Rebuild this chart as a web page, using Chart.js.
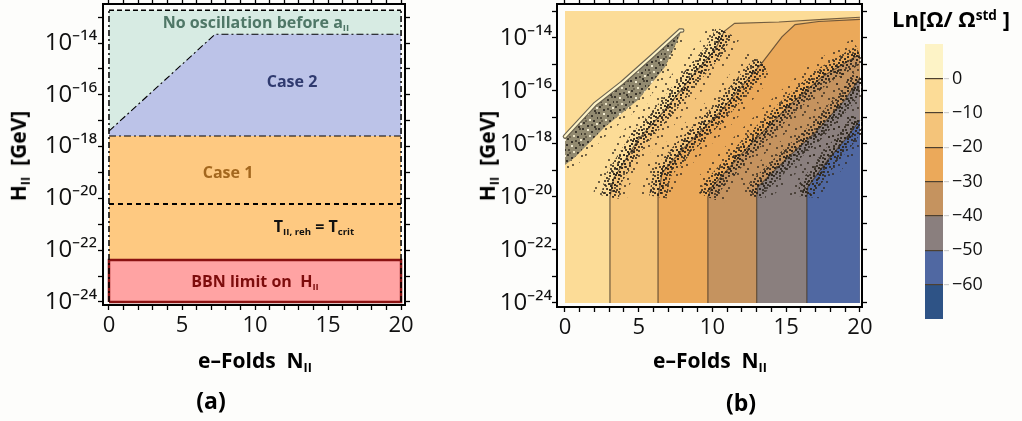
<!DOCTYPE html>
<html>
<head>
<meta charset="UTF-8">
<title>H_II vs e-folds</title>
<script src="https://cdn.jsdelivr.net/npm/chart.js@4.4.0/dist/chart.umd.min.js"></script>
<style>
body { margin:0; background:#fdfdfb; }
#wrap { position:relative; width:1022px; height:421px; font-family:'Open Sans', sans-serif; overflow:hidden; }
canvas { position:absolute; top:0; }
.lbl { position:absolute; white-space:nowrap; font-weight:bold; transform:translate(-50%,-50%); line-height:1; }
.lbl sub { font-size:60%; vertical-align:-0.3em; }
.lbl sup { font-size:62%; vertical-align:0.55em; }
.rot { transform:translate(-50%,-50%) rotate(-90deg); }
</style>
</head>
<body>
<div id="wrap">
	<canvas id="chartA" width="420" height="421" style="left:0"></canvas>
	<canvas id="chartB" width="410" height="421" style="left:470px"></canvas>
	<canvas id="cbar" width="97" height="421" style="left:925px"></canvas>

	<!-- panel (a) labels -->
	<div class="lbl" style="left:256px;top:23px;color:#4f7767;font-size:16px">No oscillation before a<sub>II</sub></div>
	<div class="lbl" style="left:292px;top:81px;color:#2f3a6f;font-size:16px">Case 2</div>
	<div class="lbl" style="left:228px;top:172px;color:#a3671e;font-size:16px">Case 1</div>
	<div class="lbl" style="left:314px;top:227px;color:#111;font-size:16px">T<sub>II, reh</sub> = T<sub>crit</sub></div>
	<div class="lbl" style="left:255px;top:282px;color:#7d0c0c;font-size:16px">BBN limit on&nbsp; H<sub>II</sub></div>

	<!-- axis titles -->
	<div class="lbl rot" style="left:20px;top:156px;font-size:21px">H<sub>II</sub>&nbsp; [GeV]</div>
	<div class="lbl rot" style="left:489px;top:156px;font-size:21px">H<sub>II</sub>&nbsp; [GeV]</div>
	<div class="lbl" style="left:255px;top:362px;font-size:21px">e–Folds&nbsp; N<sub>II</sub></div>
	<div class="lbl" style="left:710px;top:362px;font-size:21px">e–Folds&nbsp; N<sub>II</sub></div>
	<div class="lbl" style="left:211px;top:400px;font-size:23px">(a)</div>
	<div class="lbl" style="left:741px;top:402px;font-size:23px">(b)</div>
	<div class="lbl" style="left:951px;top:18px;font-size:22px">Ln[Ω/ Ω<sup>std</sup> ]</div>
</div>
<script>
// ---- axis ticks ----
const xTickVals = Array.from({length: 21}, (_, i) => i);
const xLabelVals = [0, 5, 10, 15, 20];
const yTickExps = [-24, -23, -22, -21, -20, -19, -18, -17, -16, -15, -14, -13];
const yLabelExps = [-24, -22, -20, -18, -16, -14];

// ---- panel (a): region edges, log10(H / GeV) against e-folds ----
const efoldEnds = [0, 20];
const noOscTop = -12.73;
const case2TopX = [0, 7.26, 20];
const case2TopY = [-17.4, -13.66, -13.66];
const case2Bottom = -17.59;
const reheatLine = -20.22;
const bbnTop = -22.38;
const bbnBottom = -24.0;

// ---- panel (b): contour edges of Ln[Omega/Omega_std] ----
const regionTop = -12.98;
const regionBottom = -24;
const edge0X = [0, 2.03, 3.84, 5.88, 7.8, 7.95];
const edge0Y = [-17.72, -16.5, -15.71, -14.7, -13.72, -13.72];
const band0LowX = [0, 0.68, 2.71, 4.95, 6.78, 7.8];
const band0LowY = [-18.8, -18.5, -17.36, -16.34, -15.1, -13.9];
const edge10X = [3.05, 3.05, 3.3, 4.95, 6.78, 8.81, 10.17, 10.8, 11.5, 14.5, 17.5, 20];
const edge10Y = [-24, -20.0, -19.3, -17.85, -16.72, -15.32, -14.45, -13.75, -13.45, -13.4, -13.3, -13.22];
const edge20X = [6.31, 6.31, 6.58, 7.93, 9.29, 10.5, 11.73, 13.36, 14.71, 15.6, 17.2, 20];
const edge20Y = [-24, -20.0, -19.1, -18.23, -17.47, -16.8, -16.0, -14.94, -13.96, -13.5, -13.38, -13.3];
const edge30X = [9.69, 9.69, 9.97, 12.41, 15.12, 17.42, 19.66, 20];
const edge30Y = [-24, -20.0, -19.62, -18.11, -16.6, -15.47, -14.72, -14.64];
const edge40X = [13.0, 13.0, 13.08, 15.12, 16.95, 18.98, 20];
const edge40Y = [-24, -20.0, -19.62, -18.51, -17.58, -16.34, -15.5];
const edge50X = [16.4, 16.4, 16.47, 17.83, 18.98, 20];
const edge50Y = [-24, -20.0, -19.62, -18.6, -17.85, -17.1];

// ---- colour bar ----
const cbLevels = [10, 0, -10, -20, -30, -40, -50, -60, -70];
const cbTicks = [0, -10, -20, -30, -40, -50, -60];
const cbColors = ['#fdf3c6', '#fcdc97', '#f4c47a', '#eba95a', '#c5935f', '#8a7f7e', '#5068a2', '#2e5386'];

Chart.defaults.font.family = "'Open Sans', sans-serif";
Chart.defaults.color = '#111';

const supMap = {'-': '⁻', '0': '⁰', '1': '¹', '2': '²', '3': '³', '4': '⁴', '5': '⁵', '6': '⁶', '7': '⁷', '8': '⁸', '9': '⁹'};
const powLabel = e => '10' + String(e).split('').map(c => supMap[c]).join('');
const pts = (xs, ys) => xs.map((x, i) => ({x: x, y: Math.pow(10, ys[i])}));
const flat = (xs, v) => xs.map(() => v);

// speckle texture standing in for the noisy scatter along the contours
function speckle(size, dots, fg, bg) {
	const c = document.createElement('canvas');
	c.width = size; c.height = size;
	const g = c.getContext('2d');
	if (bg) { g.fillStyle = bg; g.fillRect(0, 0, size, size); }
	dots.forEach(d => { g.fillStyle = d[2] || fg; g.fillRect(d[0], d[1], 2, 2); });
	return g.createPattern(c, 'repeat');
}
const denseDots = speckle(17, [[0,1],[5,0],[10,2],[14,5],[3,5],[8,7],[1,10],[6,12],[11,11],[15,14],[4,15],[9,4],[12,8],[2,13],[7,3],[13,1],[10,15],[6,9],[15,10],[3,2],[8,14],[12,4],[0,7],[13,13]], 'rgba(48,40,30,0.82)');
const sparseDots = speckle(19, [[1,2],[9,0],[5,7],[14,10],[2,14],[16,3],[11,16],[7,12]], 'rgba(50,42,32,0.7)');
const band0Dots = speckle(16, [[0,0,'#37322a'],[5,1,'#f3ecd2'],[9,3,'#3c372c'],[13,0,'#504a3b'],[2,5,'#514a3a'],[7,7,'#ece4c6'],[11,8,'#37322a'],[14,11,'#f1e9cd'],[1,10,'#3c372c'],[5,13,'#37322a'],[9,12,'#504a3b'],[12,14,'#3c372c'],[3,8,'#6a624e'],[15,5,'#3c372c']], null, '#928a70');

function frame(o) {
	const tickGrid = {drawOnChartArea: false, tickLength: 5, tickWidth: 1.3, tickColor: '#000'};
	const border = {color: '#000', width: 2};
	const xs = (pos, show, size) => ({
		type: 'linear', position: pos, min: o.xMin, max: o.xMax,
		afterBuildTicks: s => { s.ticks = xTickVals.map(v => ({value: v})); },
		afterFit: s => { s.height = size; s.paddingLeft = 0; s.paddingRight = 0; },
		grid: tickGrid, border: border,
		ticks: {display: show, autoSkip: false, maxRotation: 0, padding: 3, font: {size: 22},
			callback: v => xLabelVals.includes(v) ? String(v) : ''}
	});
	const ys = (pos, show, size) => ({
		type: 'logarithmic', position: pos, min: Math.pow(10, o.yMin), max: Math.pow(10, o.yMax),
		afterBuildTicks: s => { s.ticks = yTickExps.map(e => ({value: Math.pow(10, e)})); },
		afterFit: s => { s.width = size; s.paddingTop = 0; s.paddingBottom = 0; },
		grid: tickGrid, border: border,
		ticks: {display: show, autoSkip: false, padding: o.pad, font: {size: 24},
			callback: v => { const e = Math.round(Math.log10(v)); return yLabelExps.includes(e) ? powLabel(e) : ''; }}
	});
	return {x: xs('bottom', true, o.bottom), x2: xs('top', false, o.top),
		y: ys('left', true, o.left), y2: ys('right', false, o.right)};
}

const common = {
	responsive: false, animation: false, events: [],
	layout: {padding: 0},
	plugins: {legend: {display: false}, tooltip: {enabled: false}},
	elements: {point: {radius: 0}, line: {tension: 0}}
};

// ---------- panel (a) ----------
new Chart(document.getElementById('chartA'), {
	type: 'line',
	data: {datasets: [
		{data: pts(efoldEnds, flat(efoldEnds, noOscTop)), fill: {value: Math.pow(10, case2Bottom)},
			backgroundColor: '#d7ebe3', borderColor: '#000', borderWidth: 1.6, borderDash: [5, 3], order: 10},
		{data: pts(case2TopX, case2TopY), fill: {value: Math.pow(10, case2Bottom)},
			backgroundColor: '#bcc3e8', borderColor: '#000', borderWidth: 1.1, borderDash: [7, 3, 2, 3], order: 9},
		{data: pts(efoldEnds, flat(efoldEnds, case2Bottom)), fill: {value: Math.pow(10, bbnTop)},
			backgroundColor: '#fec981', borderColor: '#000', borderWidth: 1.1, borderDash: [7, 3, 2, 3], order: 8},
		{data: pts(efoldEnds, flat(efoldEnds, bbnTop)), fill: {value: Math.pow(10, bbnBottom)},
			backgroundColor: '#ffa3a3', borderWidth: 0, order: 7},
		{data: pts(efoldEnds, flat(efoldEnds, reheatLine)), fill: false,
			borderColor: '#000', borderWidth: 2, borderDash: [5, 4], order: 4},
		{data: pts([0, 0, 20, 20, 0], [bbnBottom, bbnTop, bbnTop, bbnBottom, bbnBottom]), fill: false,
			borderColor: '#8b1212', borderWidth: 2.5, order: 3},
		{data: pts([0, 0], [bbnBottom, noOscTop]), fill: false,
			borderColor: '#000', borderWidth: 1.5, borderDash: [6, 3, 2, 3], order: 2},
		{data: pts([20, 20], [bbnBottom, noOscTop]), fill: false,
			borderColor: '#000', borderWidth: 1.5, borderDash: [6, 3, 2, 3], order: 2}
	]},
	options: Object.assign({}, common, {
		scales: frame({xMin: -0.41, xMax: 20.27, yMin: -24.12, yMax: -12.49,
			left: 103, right: 15, top: 4, bottom: 116, pad: 1})
	})
});

// ---------- panel (b) ----------
const edgeLine = 'rgba(70,55,40,0.75)';
const regions = [
	[edge10X, edge10Y, cbColors[2]],
	[edge20X, edge20Y, cbColors[3]],
	[edge30X, edge30Y, cbColors[4]],
	[edge40X, edge40Y, cbColors[5]],
	[edge50X, edge50Y, cbColors[6]]
];
const dsB = [
	{data: pts(efoldEnds, flat(efoldEnds, regionTop)), fill: {value: Math.pow(10, regionBottom)},
		backgroundColor: cbColors[1], borderWidth: 0, order: 30}
];
regions.forEach((r, i) => {
	dsB.push({data: pts(r[0], r[1]), fill: {value: Math.pow(10, regionBottom)},
		backgroundColor: r[2], borderColor: edgeLine, borderWidth: 1.2, order: 28 - 4 * i});
	// noisy scatter along the bent part of each contour
	const n = i < 2 ? 8 : r[0].length;
	const bent = pts(r[0].slice(1, n), r[1].slice(1, n));
	dsB.push({data: bent, fill: false, borderColor: sparseDots, borderWidth: 34, order: 27 - 4 * i});
	dsB.push({data: bent, fill: false, borderColor: denseDots, borderWidth: 18, order: 26 - 4 * i});
	dsB.push({data: bent, fill: false, borderColor: denseDots, borderWidth: 8, order: 25 - 4 * i});
});
// the thin region above 0 and its noisy band
dsB.push({data: pts(edge0X.slice(0, 5), edge0Y.slice(0, 5)), fill: '+1',
	backgroundColor: band0Dots, borderWidth: 0, order: 2});
dsB.push({data: pts(band0LowX, band0LowY), fill: false, borderWidth: 0, order: 2});
dsB.push({data: pts(band0LowX, band0LowY), fill: false, borderColor: sparseDots, borderWidth: 14, order: 2});
dsB.push({data: pts(edge0X, edge0Y), fill: false, borderColor: '#6b6350', borderWidth: 4.5,
	borderCapStyle: 'round', order: 1});
dsB.push({data: pts(edge0X, edge0Y), fill: false, borderColor: cbColors[0], borderWidth: 2.2,
	borderCapStyle: 'round', order: 0});

new Chart(document.getElementById('chartB'), {
	type: 'line',
	data: {datasets: dsB},
	options: Object.assign({}, common, {
		scales: frame({xMin: -0.54, xMax: 20.14, yMin: -24.15, yMax: -12.72,
			left: 87, right: 18, top: 4, bottom: 114, pad: 0})
	})
});

// ---------- colour bar ----------
new Chart(document.getElementById('cbar'), {
	type: 'bar',
	data: {
		labels: [''],
		datasets: cbColors.map((c, i) => ({
			data: [[cbLevels[i + 1], cbLevels[i]]], backgroundColor: c, borderWidth: 0,
			barPercentage: 1, categoryPercentage: 1, grouped: false
		}))
	},
	options: Object.assign({}, common, {
		layout: {padding: {left: 0, top: 44, bottom: 102, right: 0}},
		scales: {
			x: {display: false},
			y: {
				type: 'linear', position: 'right', min: -70, max: 10,
				afterBuildTicks: s => { s.ticks = cbTicks.map(v => ({value: v})); },
				afterFit: s => { s.width = 79; s.paddingTop = 0; s.paddingBottom = 0; },
				grid: {drawOnChartArea: true, color: '#4d4030', lineWidth: 1.2, z: 1,
					tickColor: '#cfcfcf', tickLength: 6},
				border: {color: '#dddddd', width: 1},
				ticks: {padding: 3, font: {size: 18},
					callback: v => v === 0 ? '0' : '−' + Math.abs(v)}
			}
		}
	})
});
</script>
</body>
</html>
